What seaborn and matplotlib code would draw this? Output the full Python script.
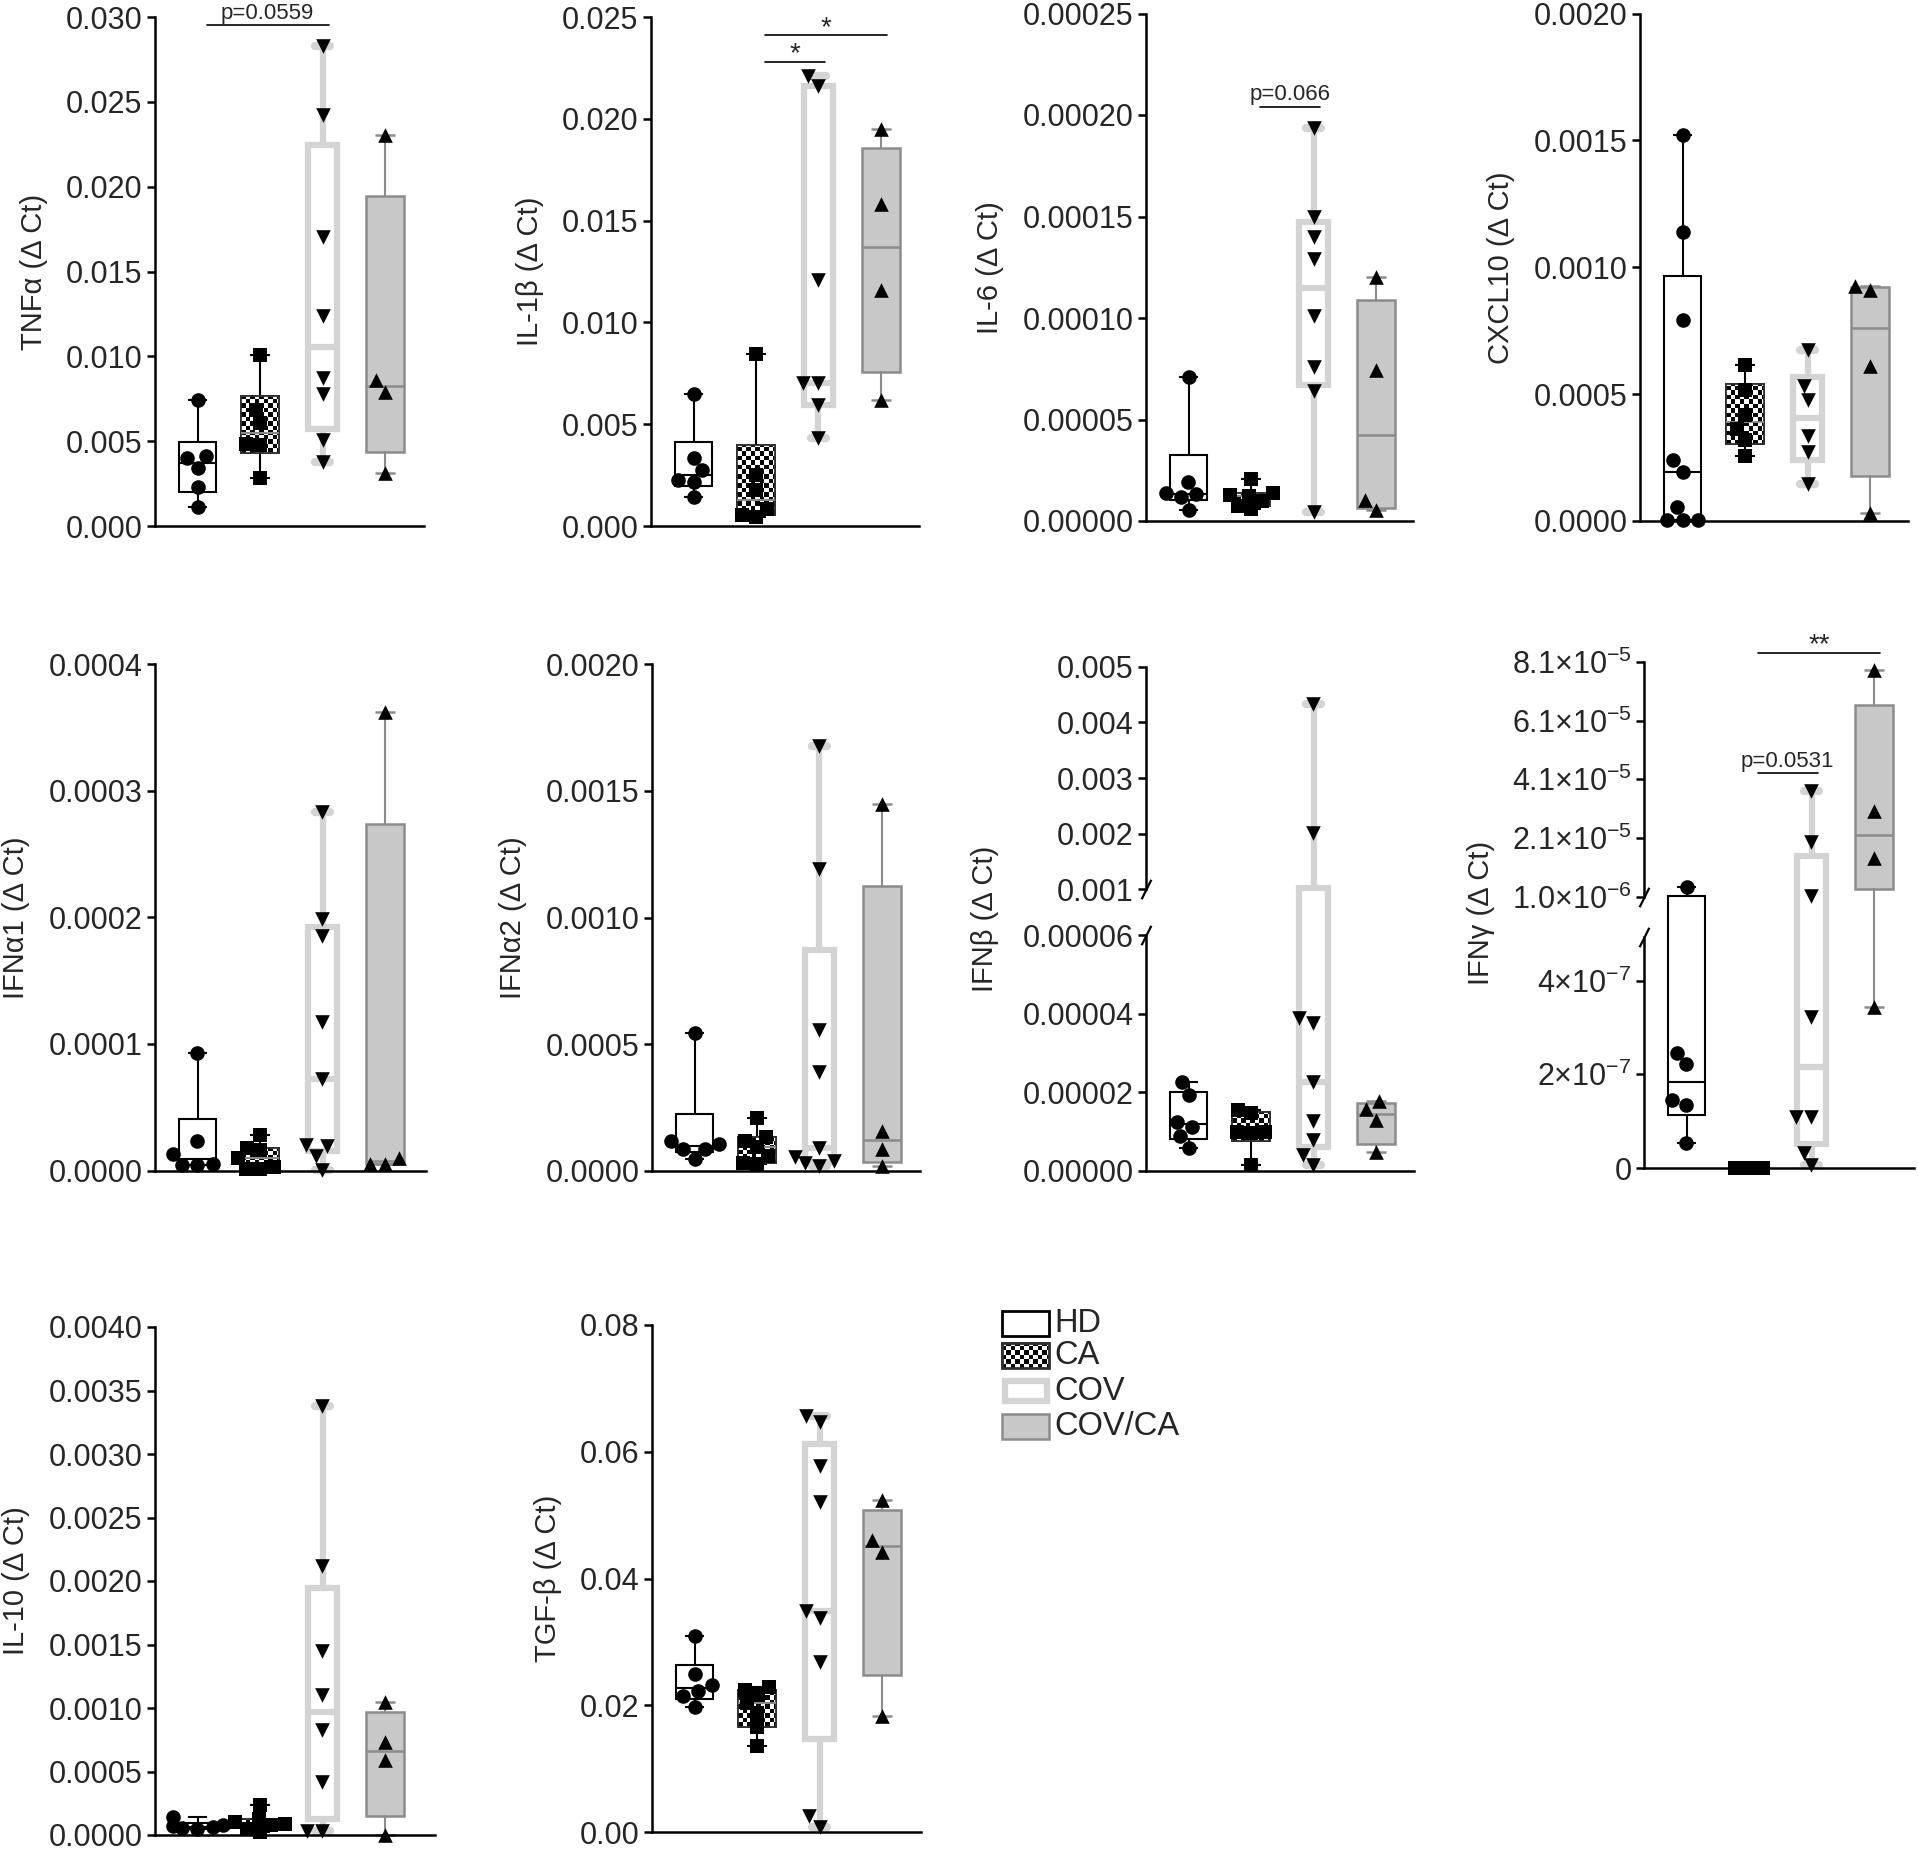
#%%
import numpy as np
import matplotlib
matplotlib.use("Agg")
import matplotlib.pyplot as plt
from matplotlib.patches import Rectangle, PathPatch
from matplotlib.path import Path
from matplotlib.ticker import FixedLocator, FixedFormatter
import seaborn as sns

#%% values (per group, units in the comment)
GROUPS = ["HD", "CA", "COV", "COV/CA"]

# TNFa  (x1e-3)
tnfa_hd = [7.4, 4.1, 4.0, 3.4, 2.3, 1.1]
tnfa_ca = [10.1, 6.85, 6.1, 4.85, 4.8, 2.84]
tnfa_cov = [28.3, 24.25, 17.05, 12.4, 8.7, 7.8, 5.05, 3.8]
tnfa_covca = [23.05, 8.6, 7.9, 3.15]

# IL-1b  (x1e-3)
il1b_hd = [6.5, 3.32, 2.75, 2.25, 2.17, 1.40]
il1b_ca = [8.46, 2.5, 1.75, 0.85, 0.55, 0.45]
il1b_cov = [22.1, 21.6, 12.1, 7.0, 7.0, 5.96, 4.3]
il1b_covca = [19.5, 15.8, 11.6, 6.2]

# IL-6  (x1e-5)
il6_hd = [7.1, 1.94, 1.36, 1.33, 1.17, 0.54]
il6_ca = [2.05, 1.4, 1.3, 1.25, 1.0, 0.75, 0.6]
il6_cov = [19.35, 15.0, 14.0, 12.9, 10.1, 7.6, 6.4, 0.44]
il6_covca = [12.0, 7.46, 1.05, 0.53]

# CXCL10  (x1e-3)
cxcl10_hd = [1.522, 1.138, 0.794, 0.240, 0.194, 0.056, 0.004, 0.003, 0.002]
cxcl10_ca = [0.613, 0.517, 0.419, 0.363, 0.32, 0.257]
cxcl10_cov = [0.672, 0.531, 0.475, 0.334, 0.271, 0.145]
cxcl10_covca = [0.925, 0.911, 0.609, 0.032]

# IFNa1  (x1e-6)
ifna1_hd = [93, 23.7, 13.2, 5.5, 4.7, 4.7]
ifna1_ca = [28.4, 18, 16, 10, 3, 1.5, 1.0]
ifna1_cov = [283, 199, 185, 117, 72.5, 20, 19.7, 11.3, 0.8]
ifna1_covca = [362, 10, 5.5, 5.5]

# IFNa2  (x1e-6)
ifna2_hd = [543, 117, 107.6, 88, 85, 46]
ifna2_ca = [210, 134, 120, 95, 60, 33, 28]
ifna2_cov = [1675, 1190, 556, 389, 90.5, 55, 38, 33, 20]
ifna2_covca = [1447, 156, 88, 20]

# IFNb  (x1e-6)
ifnb_hd = [22.6, 19.2, 12.5, 11.2, 8.8, 5.7]
ifnb_ca = [15.4, 14.6, 9.9, 9.9, 9.5, 1.4]
ifnb_cov = [4330, 2020, 38.9, 37.5, 22.6, 12.7, 7.8, 4.0, 1.4]
ifnb_covca = [17.8, 15.8, 12.9, 4.8]

# IFNg  (x1e-7)
ifng_hd = [43, 2.46, 2.21, 1.45, 1.34, 0.53]
ifng_ca = [0, 0, 0]
ifng_cov = [371, 195, 11, 3.23, 1.1, 1.1, 0.33, 0.06]
ifng_covca = [783, 300, 140, 3.44]

# IL-10  (x1e-6)
il10_hd = [138, 80, 72, 60, 55, 45]
il10_ca = [237, 125, 100, 90, 80, 50, 20]
il10_cov = [3380, 2115, 1450, 1106, 829, 415, 29, 29]
il10_covca = [1050, 733, 594, 2]

# TGF-b  (x1e-3)
tgfb_hd = [30.85, 24.9, 23.2, 22.2, 21.4, 19.8]
tgfb_ca = [22.9, 22.4, 21.6, 20.3, 18.8, 16.6, 13.5]
tgfb_cov = [65.7, 64.7, 57.7, 52.0, 34.9, 33.7, 26.8, 2.5, 0.8]
tgfb_covca = [52.4, 46.0, 44.2, 18.35]

# y ticks
tnfa_ticks = [0, 0.005, 0.010, 0.015, 0.020, 0.025, 0.030]
il1b_ticks = [0, 0.005, 0.010, 0.015, 0.020, 0.025]
il6_ticks = [0, 0.00005, 0.00010, 0.00015, 0.00020, 0.00025]
cxcl10_ticks = [0, 0.0005, 0.0010, 0.0015, 0.0020]
ifna1_ticks = [0, 0.0001, 0.0002, 0.0003, 0.0004]
ifna2_ticks = [0, 0.0005, 0.0010, 0.0015, 0.0020]
ifnb_ticks_low = [0, 0.00002, 0.00004, 0.00006]
ifnb_ticks_up = [0.001, 0.002, 0.003, 0.004, 0.005]
ifng_ticks_low = [0, 2e-7, 4e-7]
ifng_labels_low = ["0", "2×10$^{-7}$", "4×10$^{-7}$"]
ifng_ticks_up = [1.0e-6, 2.1e-5, 4.1e-5, 6.1e-5, 8.1e-5]
ifng_labels_up = ["1.0×10$^{-6}$", "2.1×10$^{-5}$", "4.1×10$^{-5}$",
                  "6.1×10$^{-5}$", "8.1×10$^{-5}$"]
il10_ticks = [0, 0.0005, 0.0010, 0.0015, 0.0020, 0.0025, 0.0030, 0.0035, 0.0040]
tgfb_ticks = [0, 0.02, 0.04, 0.06, 0.08]

#%% style
sns.set_style("ticks")
plt.rcParams["font.family"] = ["Liberation Sans", "DejaVu Sans"]
plt.rcParams["mathtext.fontset"] = "custom"
plt.rcParams["mathtext.rm"] = "Liberation Sans"
plt.rcParams["mathtext.it"] = "Liberation Sans:italic"
plt.rcParams["mathtext.bf"] = "Liberation Sans:bold"
plt.rcParams["axes.linewidth"] = 1.8
plt.rcParams["axes.edgecolor"] = "black"

W, H = 1918, 1852
TICK_FS, LABEL_FS, SIG_FS, STAR_FS, LEG_FS = 22, 21, 16, 20, 23.5
MARKERS = ["o", "s", "v", "^"]
SIZES = [10.5, 9.5, 10.5, 10.5]
BOX_W = [0.58, 0.62, 0.46, 0.62]
UNIT_PX = 62.5          # pixels between two groups
BOX_STYLE = [
    dict(face="white", edge="black", elw=1.5, med="black", mlw=1.5, whisk="black", wlw=1.5, cap="black", clw=1.5),
    dict(face="checker", edge="#303030", elw=1.3, med="#8a8a8a", mlw=1.5, whisk="black", wlw=1.5, cap="black", clw=1.5),
    dict(face="white", edge="#d4d4d4", elw=4.5, med="#d4d4d4", mlw=4.5, whisk="#d4d4d4", wlw=4.5, cap="#d4d4d4", clw=6),
    dict(face="#c8c8c8", edge="#8c8c8c", elw=1.8, med="#8c8c8c", mlw=1.8, whisk="#8c8c8c", wlw=1.5, cap="#8c8c8c", clw=1.8),
]

fig = plt.figure(figsize=(W / 100, H / 100), dpi=100)


def add_axes_px(left, top, right, bottom):
    return fig.add_axes([left / W, 1 - bottom / H, (right - left) / W, (bottom - top) / H])


def box_stats(vals):
    v = np.asarray(vals, dtype=float)
    # Prism style quartiles ((n+1)p)
    q1, med, q3 = np.percentile(v, [25, 50, 75], method="weibull")
    return dict(med=med, q1=q1, q3=q3, whislo=v.min(), whishi=v.max(), fliers=[])


def draw_points(ax, data, keep=None):
    for g, vals in enumerate(data):
        v = np.asarray(vals, dtype=float)
        if keep is not None:
            v = v[keep(v)]
        if len(v) == 0:
            continue
        sns.swarmplot(x=[GROUPS[g]] * len(v), y=v, order=GROUPS, marker=MARKERS[g],
                      size=SIZES[g], color="black", linewidth=0, ax=ax,
                      zorder=6, clip_on=False, warn_thresh=1)


def draw_boxes(ax, data, clip=None, below=None):
    stats = [box_stats(v) for v in data]
    if below is not None:
        # upper part of a broken axis: everything under the break is pushed off the axes
        for st in stats:
            for k in ("med", "q1", "q3", "whislo", "whishi"):
                if st[k] <= below:
                    st[k] = -1.0
    art = ax.bxp(stats, positions=range(4), widths=BOX_W, patch_artist=True,
                 showfliers=False, manage_ticks=False)
    for g, st in enumerate(BOX_STYLE):
        box = art["boxes"][g]
        box.set_facecolor("white" if st["face"] == "checker" else st["face"])
        box.set_edgecolor(st["edge"])
        box.set_linewidth(st["elw"])
        med = art["medians"][g]
        med.set_color(st["med"])
        med.set_linewidth(st["mlw"])
        med.set_zorder(2.4)
        for w in art["whiskers"][2 * g:2 * g + 2]:
            w.set_color(st["whisk"])
            w.set_linewidth(st["wlw"])
        for c in art["caps"][2 * g:2 * g + 2]:
            c.set_color(st["cap"])
            c.set_linewidth(st["clw"])
            c.set_solid_capstyle("round" if g == 2 else "butt")
    for k in ("boxes", "medians", "whiskers", "caps"):
        for a in art[k]:
            if clip is None:
                a.set_clip_on(False)
            else:
                a.set_clip_path(Rectangle((-0.5, clip[0]), 2, clip[1] - clip[0],
                                          transform=ax.transAxes))
    return art


def checker(ax, patch, edge, lw, cell=4.5, redraw=None):
    pts = patch.get_transform().transform(patch.get_path().vertices)
    X0, Y0 = pts.min(0)
    X1, Y1 = pts.max(0)
    if Y1 - Y0 < 1 or X1 - X0 < 1:
        return
    nx = int(np.ceil((X1 - X0) / cell))
    ny = int(np.ceil((Y1 - Y0) / cell))
    (dx0, dy0), (dx1, dy1) = ax.transData.inverted().transform(
        [(X0, Y0), (X0 + nx * cell, Y0 + ny * cell)])
    grid = np.indices((ny, nx)).sum(0) % 2
    xl, yl = ax.get_xlim(), ax.get_ylim()
    im = ax.imshow(grid, cmap="gray", vmin=0, vmax=1, extent=(dx0, dx1, dy0, dy1),
                   origin="lower", interpolation="nearest", aspect="auto",
                   zorder=patch.get_zorder() + 0.05)
    im.set_clip_path(patch)
    ax.set_xlim(xl)
    ax.set_ylim(yl)
    outline = redraw if redraw is not None else PathPatch(patch.get_path())
    outline.set_facecolor("none")
    outline.set_edgecolor(edge)
    outline.set_linewidth(lw)
    outline.set_zorder(patch.get_zorder() + 0.1)
    ax.add_patch(outline)
    outline.set_clip_on(False)


def set_yticks(ax, ticks, labels):
    ax.yaxis.set_major_locator(FixedLocator(ticks))
    ax.yaxis.set_major_formatter(FixedFormatter(labels))
    ax.tick_params(axis="y", length=6, width=1.8, labelsize=TICK_FS, pad=3, color="black")
    ax.tick_params(axis="x", bottom=False, labelbottom=False)
    ax.set_xlabel("")


def add_sig(ax, i, j, y, text):
    ax.plot([i + 0.15, j + 0.1], [y, y], color="black", lw=1.2, clip_on=False, zorder=7)
    star = set(text) == {"*"}
    ax.annotate(text, xy=((i + j) / 2 + 0.12, y), xytext=(0, -4 if star else 1),
                textcoords="offset points", ha="center", va="bottom",
                fontsize=STAR_FS if star else SIG_FS, annotation_clip=False)


def slash(ax, y):
    mk = Path([(-0.5, -1.0), (0.5, 1.0)], [Path.MOVETO, Path.LINETO])
    ax.plot([0], [y], marker=mk, ms=14, mew=1.6, mfc="none", color="black",
            transform=ax.get_yaxis_transform(), clip_on=False, zorder=8)


def finish_x(ax, width_px):
    ax.set_xlim(-0.68, -0.68 + width_px / UNIT_PX)
    ax.set_xticks([])


#%% ordinary panels
panels = [
    dict(label="TNFα (Δ Ct)", px=(155, 17, 424, 526), scale=1e-3,
         data=[tnfa_hd, tnfa_ca, tnfa_cov, tnfa_covca], ticks=tnfa_ticks, fmt="%.3f",
         sig=[(0, 2, 0.0295, "p=0.0559")]),
    dict(label="IL-1β (Δ Ct)", px=(651, 17, 919, 526), scale=1e-3,
         data=[il1b_hd, il1b_ca, il1b_cov, il1b_covca], ticks=il1b_ticks, fmt="%.3f",
         sig=[(1, 2, 0.0228, "*"), (1, 3, 0.0241, "*")]),
    dict(label="IL-6 (Δ Ct)", px=(1146, 13.5, 1413, 521), scale=1e-5,
         data=[il6_hd, il6_ca, il6_cov, il6_covca], ticks=il6_ticks, fmt="%.5f",
         sig=[(1, 2, 0.000204, "p=0.066")]),
    dict(label="CXCL10 (Δ Ct)", px=(1640, 13.5, 1908, 521), scale=1e-3,
         data=[cxcl10_hd, cxcl10_ca, cxcl10_cov, cxcl10_covca], ticks=cxcl10_ticks, fmt="%.4f",
         sig=[]),
    dict(label="IFNα1 (Δ Ct)", px=(155, 664, 426, 1170.6), scale=1e-6,
         data=[ifna1_hd, ifna1_ca, ifna1_cov, ifna1_covca], ticks=ifna1_ticks, fmt="%.4f",
         sig=[]),
    dict(label="IFNα2 (Δ Ct)", px=(652, 664, 920, 1171), scale=1e-6,
         data=[ifna2_hd, ifna2_ca, ifna2_cov, ifna2_covca], ticks=ifna2_ticks, fmt="%.4f",
         sig=[]),
    dict(label="IL-10 (Δ Ct)", px=(155, 1327, 435, 1835), scale=1e-6,
         data=[il10_hd, il10_ca, il10_cov, il10_covca], ticks=il10_ticks, fmt="%.4f",
         sig=[]),
    dict(label="TGF-β (Δ Ct)", px=(652, 1325, 921, 1832), scale=1e-3,
         data=[tgfb_hd, tgfb_ca, tgfb_cov, tgfb_covca], ticks=tgfb_ticks, fmt="%.2f",
         sig=[]),
]

for p in panels:
    l, t, r, b = p["px"]
    ax = add_axes_px(l, t, r, b)
    data = [np.asarray(v, dtype=float) * p["scale"] for v in p["data"]]
    draw_points(ax, data)
    art = draw_boxes(ax, data)
    sns.despine(ax=ax)
    set_yticks(ax, p["ticks"], [p["fmt"] % v for v in p["ticks"]])
    ax.set_ylim(0, p["ticks"][-1])
    finish_x(ax, r - l)
    ax.set_ylabel(p["label"], fontsize=LABEL_FS, labelpad=13)
    checker(ax, art["boxes"][1], BOX_STYLE[1]["edge"], BOX_STYLE[1]["elw"])
    for s in p["sig"]:
        add_sig(ax, *s)

#%% broken-axis panels (IFNb, IFNg)
broken = [
    dict(label="IFNβ (Δ Ct)", x=(1146, 1414), scale=1e-6,
         data=[ifnb_hd, ifnb_ca, ifnb_cov, ifnb_covca],
         up=(666.7, 0.005, 889.3, 0.001), low=(935.0, 0.00006, 1170.6), brk=0.00006,
         up_ticks=ifnb_ticks_up, up_labels=["%.3f" % v for v in ifnb_ticks_up],
         low_ticks=ifnb_ticks_low, low_labels=["%.5f" % v for v in ifnb_ticks_low],
         label_xy=(985, 918.6), sig=[]),
    dict(label="IFNγ (Δ Ct)", x=(1644, 1914), scale=1e-7,
         data=[ifng_hd, ifng_ca, ifng_cov, ifng_covca],
         up=(661.8, 8.1e-5, 896.6, 1.0e-6), low=(980.5, 4e-7, 1168.2), brk=4.93e-7,
         up_ticks=ifng_ticks_up, up_labels=ifng_labels_up,
         low_ticks=ifng_ticks_low, low_labels=ifng_labels_low,
         label_xy=(1481, 912.6), sig=[(1, 2, 4.3e-5, "p=0.0531"), (1, 3, 8.4e-5, "**")]),
]

for p in broken:
    l, r = p["x"]
    up_top_px, up_top, up_low_px, up_low = p["up"]
    lo_ref_px, lo_ref, lo_zero_px = p["low"]
    s_up = (up_low_px - up_top_px) / (up_top - up_low)
    s_lo = (lo_zero_px - lo_ref_px) / lo_ref
    brk_px = lo_zero_px - p["brk"] * s_lo
    mid = (up_low_px + brk_px) / 2
    data = [np.asarray(v, dtype=float) * p["scale"] for v in p["data"]]

    ax_up = add_axes_px(l, up_top_px, r, mid)
    ax_lo = add_axes_px(l, mid, r, lo_zero_px)

    brk = p["brk"]
    draw_points(ax_up, data, keep=lambda v: v > brk)
    draw_points(ax_lo, data, keep=lambda v: v <= brk)
    draw_boxes(ax_up, data, clip=(0, 1.6), below=brk)
    art = draw_boxes(ax_lo, data, clip=(-0.3, 1.0))

    sns.despine(ax=ax_up, bottom=True)
    sns.despine(ax=ax_lo)
    set_yticks(ax_up, p["up_ticks"], p["up_labels"])
    set_yticks(ax_lo, p["low_ticks"], p["low_labels"])
    ax_up.set_ylim(up_low - (mid - up_low_px) / s_up, up_top)
    ax_lo.set_ylim(0, (lo_zero_px - mid) / s_lo)
    ax_up.spines["left"].set_bounds(up_low, up_top)
    ax_lo.spines["left"].set_bounds(0, brk)
    for a in (ax_up, ax_lo):
        finish_x(a, r - l)
        a.patch.set_visible(False)
    slash(ax_up, up_low)
    slash(ax_lo, brk)
    checker(ax_lo, art["boxes"][1], BOX_STYLE[1]["edge"], BOX_STYLE[1]["elw"])
    for s in p["sig"]:
        add_sig(ax_up, *s)
    fig.text(p["label_xy"][0] / W, 1 - p["label_xy"][1] / H, p["label"], rotation=90,
             ha="center", va="center", fontsize=LABEL_FS)

#%% legend (drawn by hand so the CA swatch can be checkered)
lg = fig.add_axes([0, 0, 1, 1], zorder=-1)
lg.set_xlim(0, W)
lg.set_ylim(H, 0)
lg.axis("off")
LEG_X, LEG_W, LEG_H = 1002, 47, 25
LEG_Y = [1323.5, 1355.5, 1391, 1426.5]
for g, (name, st) in enumerate(zip(GROUPS, BOX_STYLE)):
    y = LEG_Y[g]
    inset = 2.5 if g == 2 else 0
    rect = Rectangle((LEG_X + inset, y - LEG_H / 2 + inset), LEG_W - 2 * inset, LEG_H - 2 * inset,
                     facecolor="white" if st["face"] == "checker" else st["face"],
                     edgecolor=st["edge"], linewidth=st["elw"] if g != 0 else 2.0)
    lg.add_patch(rect)
    if st["face"] == "checker":
        checker(lg, rect, st["edge"], 2.0,
                redraw=Rectangle((LEG_X, y - LEG_H / 2), LEG_W, LEG_H))
    lg.text(LEG_X + LEG_W + 5, y, name, fontsize=LEG_FS, ha="left", va="center")

fig.savefig("out.png", dpi=100)
